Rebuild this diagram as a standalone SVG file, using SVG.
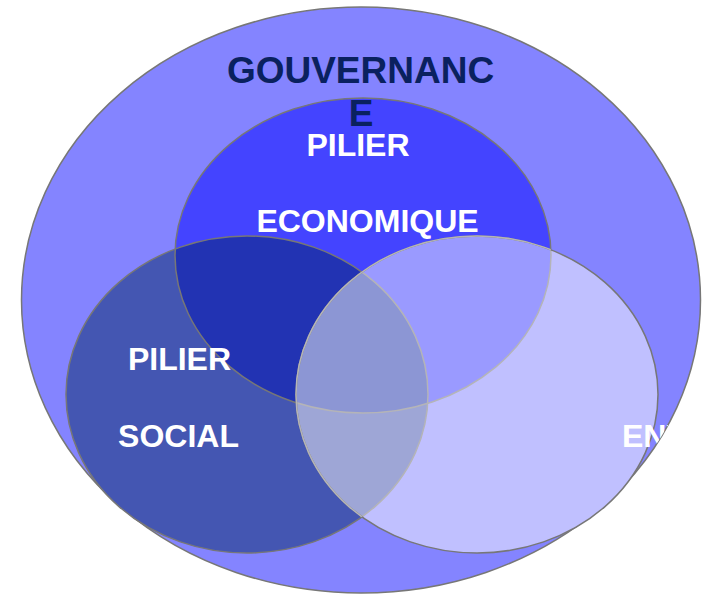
<svg xmlns="http://www.w3.org/2000/svg" width="702" height="595" viewBox="0 0 702 595">
<style>
.lbl{font-family:"Liberation Sans",Arial,sans-serif;font-weight:bold;font-size:32px;fill:#ffffff;text-anchor:middle}
.gov{font-family:"Liberation Sans",Arial,sans-serif;font-weight:bold;font-size:37px;fill:#0a215f;text-anchor:middle}
.edge{fill:none;stroke:#777777;stroke-width:1.5}
.soft{fill:none;stroke:#b4b4b8;stroke-width:1.5}
</style>
<defs>
<ellipse id="eOuter" cx="361" cy="300" rx="339.5" ry="293"/>
<ellipse id="eEco" cx="363" cy="255.5" rx="188" ry="157.5"/>
<ellipse id="eSoc" cx="247" cy="394.5" rx="181" ry="158.5"/>
<ellipse id="eEnv" cx="477" cy="394.5" rx="181" ry="158.5"/>
<clipPath id="cSoc"><use href="#eSoc"/></clipPath>
<clipPath id="cEnv"><use href="#eEnv"/></clipPath>
<clipPath id="cOuter"><use href="#eOuter"/></clipPath>
<clipPath id="cEcoSoc"><use href="#eEco"/><use href="#eSoc"/></clipPath>
</defs>
<g id="gouvernance">
<use href="#eOuter" fill="#8484ff" stroke="#777777" stroke-width="1.5"/>
</g>
<g id="pilier-economique">
<use href="#eEco" fill="#4444ff"/>
</g>
<g id="pilier-social">
<use href="#eSoc" fill="#4456b2"/>
<use href="#eEco" fill="#2233b3" clip-path="url(#cSoc)"/>
<use href="#eEco" class="edge"/>
<use href="#eSoc" class="edge"/>
</g>
<g id="pilier-environnement">
<use href="#eEnv" fill="#c0c0ff"/>
<use href="#eEco" fill="#9a9aff" clip-path="url(#cEnv)"/>
<use href="#eSoc" fill="#9ea6d6" clip-path="url(#cEnv)"/>
<g clip-path="url(#cEnv)"><use href="#eEco" fill="#8c96d4" clip-path="url(#cSoc)"/></g>
<g clip-path="url(#cEnv)"><use href="#eEco" class="soft"/><use href="#eSoc" class="soft"/></g>
<use href="#eEnv" class="edge"/>
<g clip-path="url(#cEcoSoc)"><use href="#eEnv" class="soft"/></g>
</g>
<g id="labels">
<text class="gov" x="360.5" y="83">GOUVERNANC</text>
<text class="gov" x="361" y="126">E</text>
<text class="lbl" x="358" y="156">PILIER</text>
<text class="lbl" x="367.5" y="232">ECONOMIQUE</text>
<text class="lbl" x="179.5" y="370">PILIER</text>
<text class="lbl" x="178.5" y="447">SOCIAL</text>
<g clip-path="url(#cOuter)"><text class="lbl" x="622" y="447" style="text-anchor:start">ENV</text></g>
</g>
</svg>
